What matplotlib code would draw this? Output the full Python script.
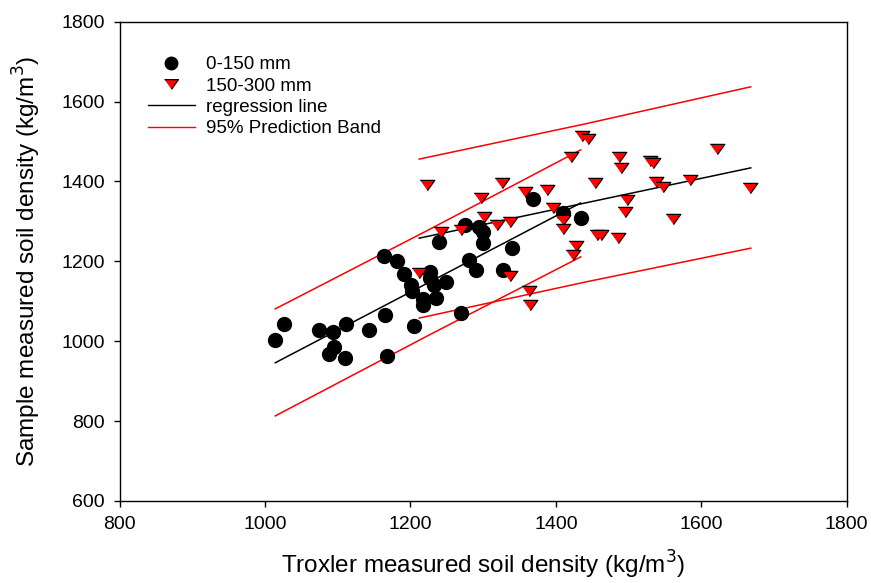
import numpy as np
import matplotlib
matplotlib.use('Agg')
import matplotlib.pyplot as plt
from matplotlib.lines import Line2D

plt.rcParams['font.family'] = ['Liberation Sans', 'DejaVu Sans']

# 0-150 mm depth
troxler_top = [1014, 1026, 1074, 1093, 1095, 1088, 1111, 1110, 1143, 1165,
               1168, 1164, 1181, 1191, 1201, 1202, 1217, 1217, 1205, 1227,
               1227, 1232, 1235, 1249, 1239, 1269, 1275, 1294, 1300, 1300,
               1280, 1290, 1327, 1340, 1368, 1410, 1434]
sample_top = [1003, 1043, 1028, 1023, 986, 968, 1043, 958, 1028, 1066,
              963, 1213, 1201, 1168, 1141, 1126, 1106, 1091, 1038, 1173,
              1158, 1141, 1108, 1148, 1249, 1071, 1291, 1286, 1274, 1246,
              1203, 1178, 1178, 1233, 1356, 1321, 1309]

# 150-300 mm depth
troxler_bot = [1223, 1212, 1242, 1269, 1297, 1301, 1319, 1337, 1326, 1357,
               1388, 1337, 1363, 1364, 1396, 1410, 1410, 1421, 1436, 1444,
               1428, 1424, 1454, 1457, 1462, 1485, 1487, 1490, 1529, 1534,
               1538, 1547, 1498, 1495, 1561, 1584, 1622, 1667]
sample_bot = [1391, 1171, 1274, 1279, 1359, 1311, 1291, 1299, 1396, 1374,
              1379, 1163, 1126, 1091, 1334, 1304, 1281, 1461, 1514, 1506,
              1239, 1216, 1396, 1266, 1266, 1259, 1461, 1434, 1451, 1447,
              1399, 1386, 1354, 1324, 1306, 1404, 1481, 1384]

# regression lines and 95% prediction bands
reg_top_x = [1014, 1434]
reg_top_y = [946, 1346]
band_top_x = [1014, 1224, 1434]
band_top_up = [1081, 1278, 1479]
band_top_lo = [813, 1014, 1211]

reg_bot_x = [1212, 1668]
reg_bot_y = [1258, 1434]
band_bot_x = [1212, 1440, 1668]
band_bot_up = [1456, 1544, 1637]
band_bot_lo = [1058, 1148, 1233]

fig = plt.figure(figsize=(8.71, 5.83), dpi=100)
ax = fig.add_axes([0.1374, 0.1407, 0.8347, 0.8221])

tri = [(-1, 0.7), (1, 0.7), (0, -0.7)]

ax.plot(reg_top_x, reg_top_y, color='black', lw=1.1)
ax.plot(reg_bot_x, reg_bot_y, color='black', lw=1.1)
for yy in (band_top_up, band_top_lo):
    ax.plot(band_top_x, yy, color='red', lw=1.1)
for yy in (band_bot_up, band_bot_lo):
    ax.plot(band_bot_x, yy, color='red', lw=1.1)

ax.plot(troxler_top, sample_top, 'o', color='black', ms=10, zorder=3)
ax.plot(troxler_bot, sample_bot, linestyle='none', marker=tri, ms=10.5,
        mfc='red', mec='black', mew=0.9, zorder=4)

ax.set_xlim(800, 1800)
ax.set_ylim(600, 1800)
ax.set_xticks([800, 1000, 1200, 1400, 1600, 1800])
ax.set_yticks([600, 800, 1000, 1200, 1400, 1600, 1800])
ax.tick_params(direction='out', length=4.5, width=1, labelsize=14, pad=6)
for s in ax.spines.values():
    s.set_linewidth(1)

ax.set_xlabel('Troxler measured soil density (kg/m$^3$)', fontsize=17.5, labelpad=12)
ax.set_ylabel('Sample measured soil density (kg/m$^3$)', fontsize=17.5, labelpad=13)

handles = [
    Line2D([], [], linestyle='none', marker='o', color='black', ms=9),
    Line2D([], [], linestyle='none', marker=tri, ms=10, mfc='red', mec='black', mew=0.9),
    Line2D([], [], color='black', lw=1),
    Line2D([], [], color='red', lw=1),
]
labels = ['0-150 mm', '150-300 mm', 'regression line', '95% Prediction Band']
ax.legend(handles, labels, loc='upper left', bbox_to_anchor=(0.039, 0.928),
          frameon=False, fontsize=13.5, borderpad=0, borderaxespad=0,
          handlelength=2.5, handletextpad=0.6, labelspacing=0.22)

fig.savefig('out.png', dpi=100)
